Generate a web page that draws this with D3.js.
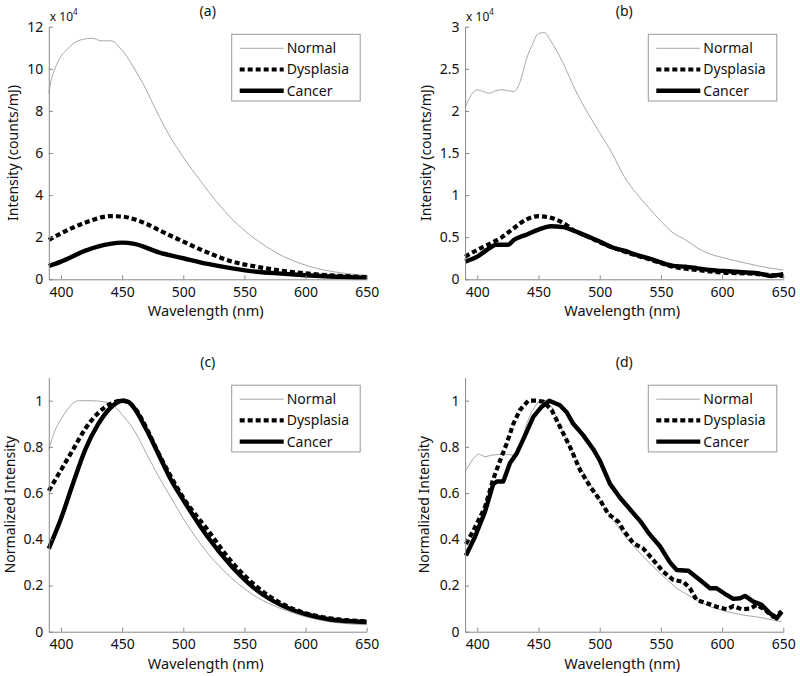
<!DOCTYPE html>
<html><head><meta charset="utf-8">
<script src="https://cdn.jsdelivr.net/npm/d3@7"></script>
<style>body{margin:0;background:#fff}svg{display:block}text{font-family:"Noto Sans",sans-serif;fill:#111}</style>
</head><body><div id="c"></div>
<script>
// ---------- data ----------
const seriesNames = ["Normal", "Dysplasia", "Cancer"];
const panelLabels = ["(a)", "(b)", "(c)", "(d)"];
const xTicks = [400, 450, 500, 550, 600, 650];
const yTicksA = [0, 2, 4, 6, 8, 10, 12];
const yTicksB = [0, 0.5, 1, 1.5, 2, 2.5, 3];
const yTicksNorm = [0, 0.2, 0.4, 0.6, 0.8, 1];

// (a) intensity x10^4
const wlA_normal = [390,391,395,400,404.6,410,418,425,429,432,440,443,448,453.7,459,467,475.5,486,500,513.7,527,541,554.6,568,582,595.5,609,623,636.5,650];
const valA_normal = [8.83,9.2,10.0,10.6,10.9,11.2,11.4,11.45,11.4,11.33,11.33,11.3,11.0,10.6,10.1,9.3,8.3,7.1,5.8,4.7,3.7,2.8,2.1,1.55,1.08,0.76,0.52,0.36,0.25,0.19];
const wlA_dys = [390,400,420,440,450,460,470,480,500,520,540,560,580,600,620,650];
const valA_dys = [1.87,2.18,2.7,3.0,2.98,2.85,2.63,2.34,1.79,1.27,0.84,0.6,0.41,0.28,0.19,0.1];
const wlA_can = [390,400,420,440,450,460,480,500,520,540,560,580,600,620,650];
const valA_can = [0.63,0.84,1.36,1.68,1.74,1.68,1.28,1.0,0.73,0.52,0.36,0.27,0.19,0.13,0.07];

// (b) intensity x10^4
const wlB_normal = [390,395,400,405,410,415,420,425,430,435,440,445,450,455,460,470,480,490,500,510,520,530,540,550,560,570,580,590,600,620,640,650];
const valB_normal = [2.04,2.19,2.25,2.23,2.21,2.24,2.25,2.24,2.23,2.35,2.61,2.79,2.92,2.93,2.83,2.57,2.25,1.98,1.74,1.5,1.22,1.02,0.85,0.69,0.55,0.47,0.37,0.3,0.26,0.19,0.13,0.11];
const wlB_dys = [390,400,410,420,430,440,450,460,470,480,490,500,520,540,560,580,600,620,640,650];
const valB_dys = [0.27,0.35,0.42,0.5,0.61,0.71,0.75,0.73,0.67,0.57,0.51,0.44,0.33,0.24,0.15,0.11,0.08,0.07,0.05,0.04];
const wlB_can = [390,400,410,415,420,425,430,440,450,460,470,480,490,500,510,520,530,540,550,560,570,580,590,600,620,630,640,645,650];
const valB_can = [0.21,0.27,0.37,0.41,0.41,0.41,0.47,0.53,0.59,0.63,0.62,0.57,0.51,0.45,0.38,0.34,0.29,0.25,0.2,0.16,0.15,0.13,0.11,0.1,0.08,0.07,0.04,0.05,0.06];

// (c) normalized
const wlC_normal = [390,395,400,405,410,415,425,435,440,445,450,460,470,480,490,500,520,540,560,580,600,620,650];
const valC_normal = [0.79,0.87,0.92,0.96,0.99,1.0,1.0,0.995,0.99,0.97,0.94,0.87,0.77,0.67,0.58,0.49,0.34,0.23,0.15,0.1,0.065,0.043,0.03];
const wlC_dys = [390,400,410,420,430,440,450,460,470,480,490,500,520,540,560,580,600,620,650];
const valC_dys = [0.61,0.7,0.79,0.88,0.945,0.985,1.0,0.97,0.88,0.77,0.67,0.58,0.44,0.30,0.195,0.123,0.08,0.058,0.045];
const wlC_can = [390,400,410,420,430,440,450,455,460,470,480,490,500,520,540,560,580,600,620,650];
const valC_can = [0.36,0.49,0.645,0.79,0.895,0.967,1.0,0.995,0.967,0.873,0.765,0.657,0.57,0.41,0.28,0.18,0.115,0.076,0.053,0.042];

// (d) normalized
const wlD_normal = [390.7,396.7,400.8,406.3,411.7,421.2,429.4,434.9,440.3,444.4,449.8,455.2,460.7,470.2,481.2,494.7,508.4,522,535.6,549.2,562.9,576.4,590.1,603.7,617.3,630.9,648.7];
const valD_normal = [0.70,0.75,0.77,0.757,0.764,0.77,0.764,0.80,0.90,0.952,0.996,1.0,0.974,0.86,0.743,0.613,0.50,0.404,0.325,0.253,0.188,0.145,0.108,0.087,0.072,0.062,0.043];
const wlD_dys = [390.7,398,406.3,413,418.5,424,429.4,434.9,441.6,448.5,453.9,460.7,467.5,475.7,483.9,492,500.2,507,515.2,519.3,527.4,535.6,543.8,551.9,560.1,568.3,573.7,579.2,587.4,595.5,603.7,609.1,616,622.8,628.2,633.6,641.8,648.7];
const valD_dys = [0.38,0.45,0.54,0.66,0.74,0.815,0.90,0.96,1.0,1.0,0.996,0.96,0.887,0.80,0.70,0.63,0.57,0.51,0.476,0.44,0.383,0.36,0.31,0.26,0.224,0.216,0.188,0.137,0.123,0.108,0.097,0.111,0.097,0.10,0.116,0.10,0.065,0.087];
const wlD_can = [390.7,398,406.3,413,416,421.2,426.7,432,439,445.7,452.6,458.8,467.5,473,478.4,486.6,494.7,500.2,508.4,516.6,524.7,532.9,541,549.2,557.4,562.9,572.4,581.9,590.1,595.5,603.7,609.1,614.6,618.7,625.5,632.3,639.1,644.6,648.7];
const valD_can = [0.33,0.41,0.52,0.64,0.65,0.65,0.73,0.77,0.85,0.93,0.974,1.0,0.98,0.95,0.90,0.85,0.79,0.74,0.64,0.58,0.53,0.48,0.42,0.37,0.30,0.267,0.264,0.224,0.188,0.188,0.159,0.142,0.145,0.155,0.13,0.116,0.08,0.058,0.087];

// ---------- layout ----------
const W = 800, H = 676;
const svg = d3.select("#c").append("svg").attr("width", W).attr("height", H);

const styles = [
  {stroke: "#a8a8a8", width: 1, dash: null},
  {stroke: "#000", width: 4.2, dash: "5,3"},
  {stroke: "#000", width: 4.4, dash: null}
];
const tickFmt = d3.format("~g");

const panels = [
  {x0: 48.8, x1: 366.7, y0: 279.3, y1: 26.7, yMax: 12, yTicks: yTicksA, ylabel: "Intensity (counts/mJ)", ylabX: 17.5, exp: true,
   data: [[wlA_normal, valA_normal], [wlA_dys, valA_dys], [wlA_can, valA_can]], curve: d3.curveMonotoneX},
  {x0: 465.1, x1: 783.3, y0: 279.3, y1: 26.7, yMax: 3, yTicks: yTicksB, ylabel: "Intensity (counts/mJ)", ylabX: 430.7, exp: true,
   data: [[wlB_normal, valB_normal], [wlB_dys, valB_dys], [wlB_can, valB_can]], curve: d3.curveMonotoneX},
  {x0: 48.8, x1: 366.7, y0: 631.7, y1: 377.6, yMax: 1.1, yTicks: yTicksNorm, ylabel: "Normalized Intensity", ylabX: 14.5, exp: false,
   data: [[wlC_normal, valC_normal], [wlC_dys, valC_dys], [wlC_can, valC_can]], curve: d3.curveMonotoneX},
  {x0: 465.1, x1: 783.3, y0: 631.7, y1: 377.6, yMax: 1.1, yTicks: yTicksNorm, ylabel: "Normalized Intensity", ylabX: 428.5, exp: false,
   data: [[wlD_normal, valD_normal], [wlD_dys, valD_dys], [wlD_can, valD_can]], curve: d3.curveLinear}
];

panels.forEach((p, i) => {
  const x = d3.scaleLinear().domain([390, 650]).range([p.x0, p.x1]);
  const y = d3.scaleLinear().domain([0, p.yMax]).range([p.y0, p.y1]);
  const g = svg.append("g");

  // curves
  p.data.forEach((s, k) => {
    const pts = s[0].map((w, j) => [w, s[1][j]]);
    const line = d3.line().x(d => x(d[0])).y(d => y(d[1])).curve(p.curve);
    const st = styles[k];
    g.append("path").attr("d", line(pts)).attr("fill", "none")
      .attr("stroke", st.stroke).attr("stroke-width", st.width)
      .attr("stroke-dasharray", st.dash).attr("stroke-linejoin", "round");
  });

  // x axis
  const xa = g.append("g").attr("transform", `translate(0,${p.y0})`)
    .call(d3.axisBottom(x).tickValues(xTicks).tickSizeInner(-4).tickSizeOuter(0).tickPadding(7.7));
  // y axis
  const ya = g.append("g").attr("transform", `translate(${p.x0},0)`)
    .call(d3.axisLeft(y).tickValues(p.yTicks).tickFormat(tickFmt).tickSizeInner(-4).tickSizeOuter(0).tickPadding(5.5));
  [xa, ya].forEach(a => {
    a.select(".domain").attr("stroke", "#888");
    a.selectAll(".tick line").attr("stroke", "#888");
    a.selectAll(".tick text").attr("font-size", 14).attr("font-family", '"Noto Sans",sans-serif').attr("fill", "#111");
  });

  // titles
  g.append("text").attr("x", (p.x0 + p.x1) / 2).attr("y", p.y1 - 10.5).attr("text-anchor", "middle")
    .attr("font-size", 14).text(panelLabels[i]);
  // x label
  g.append("text").attr("x", (p.x0 + p.x1) / 2 - 2).attr("y", p.y0 + 37).attr("text-anchor", "middle")
    .attr("font-size", 14.5).text("Wavelength (nm)");
  // y label
  g.append("text").attr("transform", `translate(${p.ylabX},${(p.y0 + p.y1) / 2}) rotate(-90)`)
    .attr("text-anchor", "middle").attr("font-size", 14).text(p.ylabel);
  // exponent
  if (p.exp) {
    const t = g.append("text").attr("x", p.x0 + 1).attr("y", p.y1 - 6).attr("font-size", 12);
    t.append("tspan").text("x 10");
    t.append("tspan").attr("font-size", 8).attr("dy", -6).text("4");
  }

  // legend
  const lx = p.x1 - 135, ly = p.y1 + 7.6;
  const lg = g.append("g").attr("transform", `translate(${lx},${ly})`);
  lg.append("rect").attr("x", 0).attr("y", 0).attr("width", 128.5).attr("height", 66.7)
    .attr("fill", "#fff").attr("stroke", "#999").attr("stroke-width", 1);
  seriesNames.forEach((n, k) => {
    const yy = 14 + k * 21.2;
    const st = styles[k];
    lg.append("line").attr("x1", 8).attr("x2", 52).attr("y1", yy).attr("y2", yy)
      .attr("stroke", st.stroke).attr("stroke-width", st.width).attr("stroke-dasharray", st.dash);
    lg.append("text").attr("x", 55).attr("y", yy + 5).attr("font-size", 14).text(n);
  });
});
</script></body></html>
